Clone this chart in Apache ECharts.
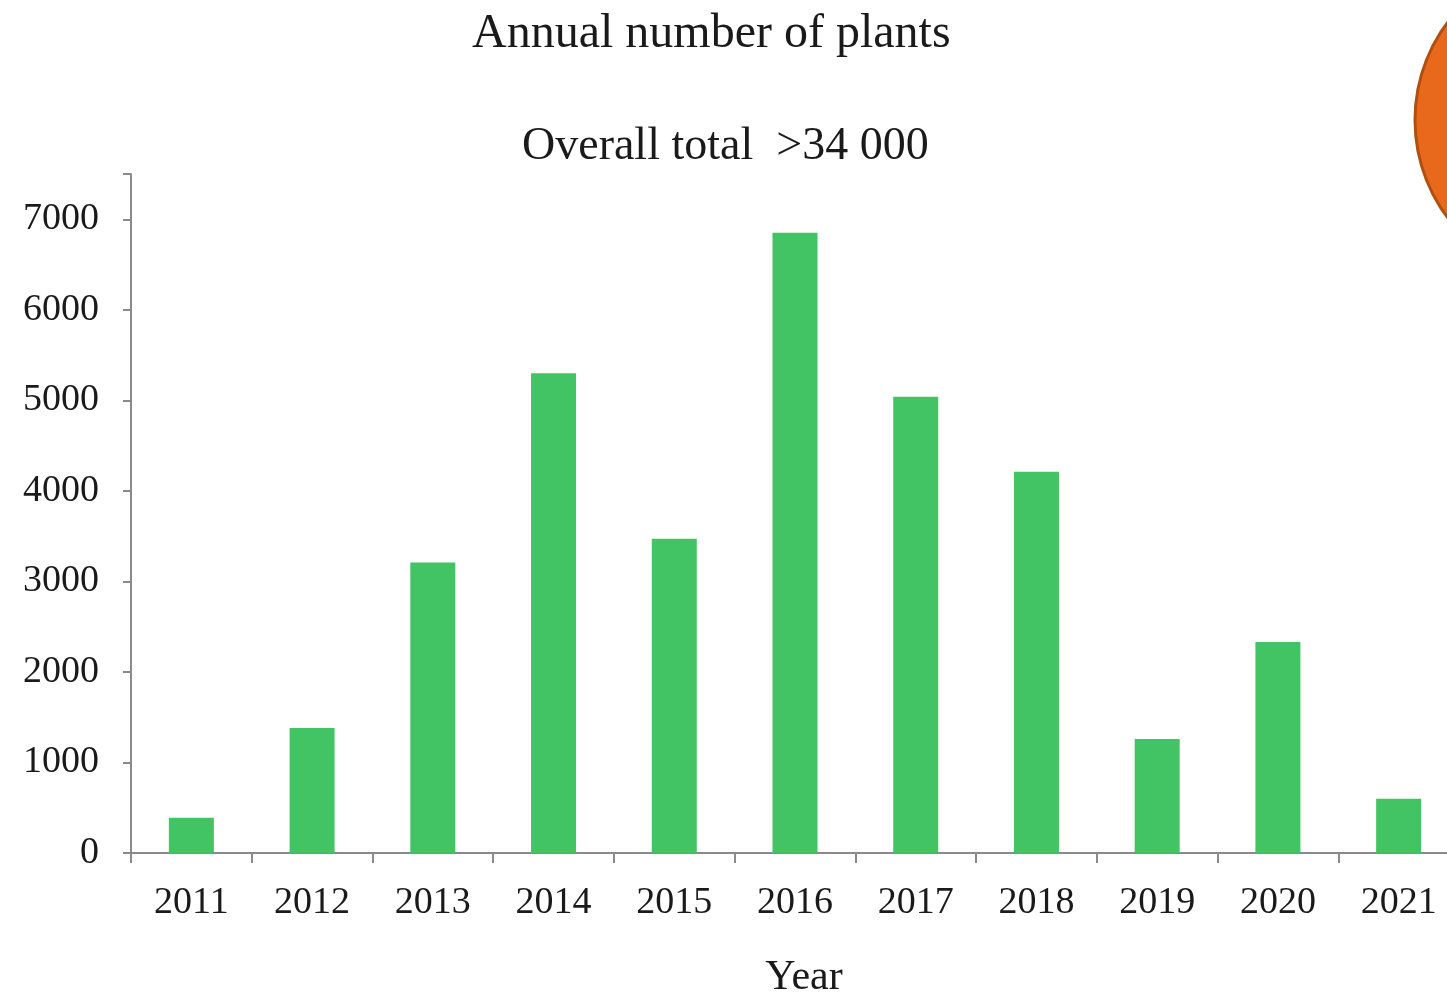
<!DOCTYPE html>
<html>
<head>
<meta charset="utf-8">
<script src="https://cdn.jsdelivr.net/npm/echarts@6/dist/echarts.min.js"></script>
<style>
html,body{margin:0;padding:0;background:#fff;overflow:hidden;}
#chart{width:1460px;height:993px;}
</style>
</head>
<body>
<div id="chart"></div>
<script>
const years = ['2011','2012','2013','2014','2015','2016','2017','2018','2019','2020','2021'];
const plants = [390, 1380, 3210, 5300, 3470, 6850, 5040, 4210, 1260, 2330, 600];
const yTicks = [0, 1000, 2000, 3000, 4000, 5000, 6000, 7000];
const titleText = 'Annual number of plants';
const subtitleText = 'Overall total  >34 000';
const xName = 'Year';

const font = '"Liberation Serif", "Times New Roman", serif';
const chart = echarts.init(document.getElementById('chart'));
chart.setOption({
  animation: false,
  backgroundColor: '#fff',
  title: [
    { text: titleText, left: 467, top: 5,
      textStyle: { fontFamily: font, fontSize: 48, fontWeight: 'normal', color: '#1a1a1a' } },
    { text: subtitleText, left: 517, top: 119,
      textStyle: { fontFamily: font, fontSize: 46, fontWeight: 'normal', color: '#1a1a1a' } }
  ],
  graphic: [
    { type: 'circle', shape: { cx: 1578, cy: 120, r: 163 },
      style: { fill: '#e8681c', stroke: '#b0500f', lineWidth: 3 }, z: 10 }
  ],
  grid: { left: 131, right: 1, top: 174, bottom: 140, containLabel: false, outerBoundsMode: 'none' },
  xAxis: {
    type: 'category',
    data: years,
    name: xName,
    nameLocation: 'middle',
    nameGap: 104,
    nameTextStyle: { fontFamily: font, fontSize: 42, color: '#1a1a1a', padding: [0, 0, 0, 18] },
    axisLine: { lineStyle: { color: '#8a8a8a', width: 2 } },
    axisTick: { show: true, length: 10, lineStyle: { color: '#8a8a8a', width: 2 } },
    axisLabel: { fontFamily: font, fontSize: 38, color: '#1a1a1a', margin: 31 },
    splitLine: { show: false }
  },
  yAxis: {
    type: 'value',
    min: 0,
    max: 7500,
    interval: 1000,
    axisLine: { show: true, lineStyle: { color: '#8a8a8a', width: 2 } },
    axisTick: { show: true, length: 8, lineStyle: { color: '#8a8a8a', width: 2 } },
    axisLabel: {
      fontFamily: font, fontSize: 38, color: '#1a1a1a', margin: 32,
      formatter: function (v) { return yTicks.indexOf(v) >= 0 ? String(v) : ''; }
    },
    splitLine: { show: false }
  },
  series: [{
    type: 'bar',
    data: plants,
    barWidth: 45,
    itemStyle: { color: '#43c464' }
  }]
});
</script>
</body>
</html>
